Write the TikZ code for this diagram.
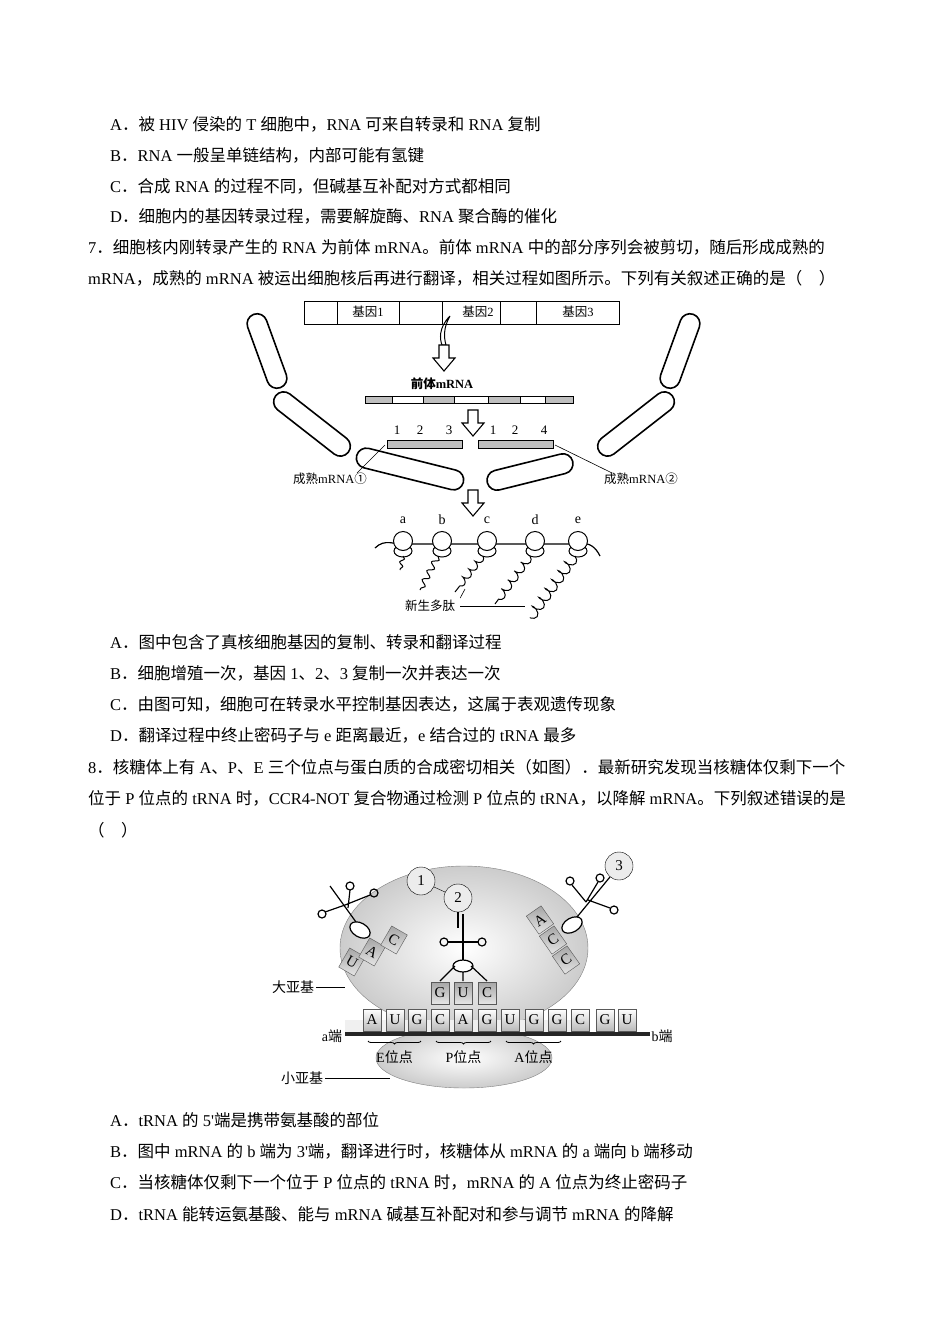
\documentclass[tikz,border=0pt]{standalone}
\usepackage{fontspec}
\setmainfont{Liberation Serif}
\newfontfamily\plainserif{Liberation Serif}
\newfontfamily\cjk{Noto Sans CJK SC}
\usetikzlibrary{decorations.pathmorphing,decorations.pathreplacing}
\newXeTeXintercharclass\mycjkclass
\makeatletter
\count@="3000
\loop\ifnum\count@<"A000 \XeTeXcharclass\count@=\mycjkclass \advance\count@ by 1 \repeat
\count@="FF00
\loop\ifnum\count@<"FFF0 \XeTeXcharclass\count@=\mycjkclass \advance\count@ by 1 \repeat
\XeTeXcharclass"2460=\mycjkclass \XeTeXcharclass"2461=\mycjkclass
\makeatother
\XeTeXinterchartoks 0 \mycjkclass = {\begingroup\cjk}
\XeTeXinterchartoks 4095 \mycjkclass = {\begingroup\cjk}
\XeTeXinterchartoks \mycjkclass 0 = {\endgroup}
\XeTeXinterchartoks \mycjkclass 4095 = {\endgroup}
\XeTeXinterchartokenstate=1
\newcommand\harrow[2]{\draw[line width=1.1pt,fill=white] (#1-5,#2) -- (#1+5,#2) -- (#1+5,#2+13) -- (#1+11,#2+13) -- (#1,#2+26) -- (#1-11,#2+13) -- (#1-5,#2+13) -- cycle;}
\begin{document}
\begin{tikzpicture}[x=1pt,y=-1pt,
 txt/.style={anchor=west,inner sep=0pt,font=\fontsize{16.5}{16.5}\selectfont},
 lbl/.style={inner sep=0pt,font=\fontsize{12.5}{12.5}\selectfont},
 mem/.style={draw,line width=1.6pt,rounded corners=10pt,minimum height=20pt,inner sep=0pt},
 rib/.style={draw,line width=1pt,fill=white,circle,minimum size=19pt,inner sep=0pt},
 cod/.style={draw=gray!70!black,minimum width=18pt,minimum height=22pt,inner sep=0pt,font=\fontsize{15}{15}\selectfont},
 bigc/.style={draw,fill=gray!15,circle,minimum size=28pt,inner sep=0pt,font=\fontsize{15}{15}\selectfont}]
\useasboundingbox (0,0) rectangle (950,1344);
\fill[white] (0,0) rectangle (950,1344);
% text
\node[txt] (t1) at (110,124) {A．被 HIV 侵染的 T 细胞中，RNA 可来自转录和 RNA 复制};
\node[txt] (t2) at (110,155) {B．RNA 一般呈单链结构，内部可能有氢键};
\node[txt] (t3) at (110,186) {C．合成 RNA 的过程不同，但碱基互补配对方式都相同};
\node[txt] (t4) at (110,216) {D．细胞内的基因转录过程，需要解旋酶、RNA 聚合酶的催化};
\node[txt] (t5) at (88,247) {7．细胞核内刚转录产生的 RNA 为前体 mRNA。前体 mRNA 中的部分序列会被剪切，随后形成成熟的};
\node[txt] (t6) at (88,278) {mRNA，成熟的 mRNA 被运出细胞核后再进行翻译，相关过程如图所示。下列有关叙述正确的是（\quad）};
\node[txt] (t7) at (110,642) {A．图中包含了真核细胞基因的复制、转录和翻译过程};
\node[txt] (t8) at (110,673) {B．细胞增殖一次，基因 1、2、3 复制一次并表达一次};
\node[txt] (t9) at (110,704) {C．由图可知，细胞可在转录水平控制基因表达，这属于表观遗传现象};
\node[txt] (t10) at (110,735) {D．翻译过程中终止密码子与 e 距离最近，e 结合过的 tRNA 最多};
\node[txt] (t11) at (88,767) {8．核糖体上有 A、P、E 三个位点与蛋白质的合成密切相关（如图）．最新研究发现当核糖体仅剩下一个};
\node[txt] (t12) at (88,798) {位于 P 位点的 tRNA 时，CCR4-NOT 复合物通过检测 P 位点的 tRNA，以降解 mRNA。下列叙述错误的是};
\node[txt] (t13) at (88,830) {（\quad）};
\node[txt] (t14) at (110,1120) {A．tRNA 的 5{\plainserif '}端是携带氨基酸的部位};
\node[txt] (t15) at (110,1151) {B．图中 mRNA 的 b 端为 3{\plainserif '}端，翻译进行时，核糖体从 mRNA 的 a 端向 b 端移动};
\node[txt] (t16) at (110,1182) {C．当核糖体仅剩下一个位于 P 位点的 tRNA 时，mRNA 的 A 位点为终止密码子};
\node[txt] (t17) at (110,1214) {D．tRNA 能转运氨基酸、能与 mRNA 碱基互补配对和参与调节 mRNA 的降解};
% ===== figure 1 =====
\draw[line width=0.8pt] (304,301) rectangle (619,324);
\foreach \x in {337,399,442,500,536} \draw[line width=0.8pt] (\x,301)--(\x,324);
\node[lbl] (g1) at (368,312) {基因1};
\node[lbl] (g2) at (478,312) {基因2};
\node[lbl] (g3) at (578,312) {基因3};
\draw[line width=1pt] (450,316) .. controls (438,328) and (440,340) .. (442,345) -- (446,345) .. controls (444,338) and (443,328) .. (450,316);
\harrow{444}{345}
\node[lbl,font=\fontsize{12.5}{12.5}\selectfont\bfseries] (pre) at (442,384) {前体mRNA};
\foreach \a/\b/\c in {365/392/gray!50,392/423/white,423/454/gray!50,454/488/white,488/520/gray!50,520/545/white,545/573/gray!50}
  \draw[line width=0.8pt,fill=\c] (\a,396) rectangle (\b,403);
\harrow{473}{410}
\foreach \x/\s in {397/1,420/2,449/3,493/1,515/2,544/4} \node[lbl,font=\fontsize{13}{13}\selectfont] at (\x,430) {\s};
\draw[line width=0.8pt,fill=gray!50] (387,440) rectangle (462,448);
\draw[line width=0.8pt,fill=gray!50] (478,440) rectangle (553,448);
\node[mem,minimum width=78pt,rotate=-70] (m1) at (267,351) {};
\node[mem,minimum width=92pt,rotate=-38] (m2) at (312,424) {};
\node[mem,minimum width=110pt,rotate=-14] (m3) at (410,469) {};
\node[mem,minimum width=78pt,rotate=70] (m4) at (680,351) {};
\node[mem,minimum width=92pt,rotate=38] (m5) at (636,424) {};
\node[mem,minimum width=88pt,rotate=14] (m6) at (530,472) {};
\node[lbl] (r1) at (330,479) {成熟mRNA①};
\node[lbl] (r2) at (641,479) {成熟mRNA②};
\coordinate (c1) at (385,445); \coordinate (c2) at (555,445);
\draw[line width=0.6pt] (r1.north east)++(-10,0) -- (c1);
\draw[line width=0.6pt] (r2.north west)++(8,0) -- (c2);
\harrow{473}{490}
\draw[line width=1.2pt] (375,548) .. controls (385,538) and (395,545) .. (403,544) -- (580,544) .. controls (590,542) and (596,548) .. (600,556);
\foreach \x/\s/\n in {403/a/1,442/b/2,487/c/3,535/d/4,578/e/5}{
  \node[font=\fontsize{14}{14}\selectfont] at (\x,520) {\s};
  \draw[line width=1pt,fill=white] (\x,551) ellipse (9pt and 6pt);
  \node[rib] (rb\n) at (\x,541) {};
}
\draw[line width=1pt,decorate,decoration={snake,amplitude=2pt,segment length=8pt}] (403,556) -- (400,570);
\draw[line width=1pt,decorate,decoration={snake,amplitude=3pt,segment length=10pt}] (438,556) -- (420,590);
\draw[line width=1pt,decorate,decoration={coil,amplitude=3pt,segment length=10pt}] (483,556) -- (455,592);
\draw[line width=1pt,decorate,decoration={coil,amplitude=4pt,segment length=11pt}] (530,556) -- (495,604);
\draw[line width=1pt,decorate,decoration={coil,amplitude=5pt,segment length=11pt}] (575,556) -- (530,618);
\node[lbl] (np) at (430,606) {新生多肽};
\coordinate (np1) at (525,606); \coordinate (np2) at (465,589);
\draw[line width=0.6pt] (np.east)++(5,0) -- (np1);
\draw[line width=0.6pt] (np.north east)++(5,-2) -- (np2);
% ===== figure 2 =====
\shade[inner color=white,outer color=gray!40,draw=gray] (464,948) ellipse (124pt and 82pt);
\shade[inner color=white,outer color=gray!40,draw=gray] (464,1058) ellipse (88pt and 30pt);
\fill[gray!12] (345,1020) rectangle (585,1034);
\node[lbl,font=\fontsize{14}{14}\selectfont] (big) at (293,987) {大亚基};
\coordinate (bg) at (345,987);
\draw[line width=0.8pt] (big.east)++(2,0) -- (bg);
\node[lbl,font=\fontsize{14}{14}\selectfont] (small) at (302,1078) {小亚基};
\coordinate (sm) at (390,1078);
\draw[line width=0.8pt] (small.east)++(2,0) -- (sm);
\foreach \x/\s/\n in {372/A/1,395/U/2,417/G/3,440/C/4,463/A/5,487/G/6,510/U/7,534/G/8,557/G/9,580/C/10,605/G/11,627/U/12}
  \node[cod,top color=white,bottom color=gray!55,text depth=-6pt] (k\n) at (\x,1020) {\s};
\draw[line width=4pt,gray!30!black] (345,1034) -- (650,1034);
\node[lbl,font=\fontsize{14}{14}\selectfont] (ae) at (332,1036) {a端};
\node[lbl,font=\fontsize{14}{14}\selectfont] (be) at (662,1036) {b端};
\foreach \a/\b/\s/\n in {372/417/E/1,440/487/P/2,510/557/A/3}{
  \draw[line width=0.8pt,decorate,decoration={brace,mirror,amplitude=3pt}] ({\a-4},1041) -- ({\b+4},1041);
  \node[lbl,font=\fontsize{14}{14}\selectfont] (s\n) at ({(\a+\b)/2},1057) {{\s}位点};
}
% P-site tRNA
\foreach \x/\s/\n in {440/G/1,463/U/2,487/C/3}
  \node[cod,top color=gray!70,bottom color=gray!20] (ac\n) at (\x,993) {\s};
\draw[line width=1.2pt,fill=white] (463,966) ellipse (10pt and 6pt);
\draw[line width=1.2pt] (440,981) -- (455,966) (463,981)--(463,972) (487,981)--(471,966);
\draw[line width=1.2pt] (463,960) -- (463,914);
\draw[line width=1.2pt] (463,942) -- (448,942) (463,942) -- (478,942);
\draw[line width=1.2pt] (444,942) circle (4pt) (482,942) circle (4pt);
\node[bigc] (n1) at (421,881) {1};
\node[bigc] (n2) at (458,898) {2};
\node[bigc] (n3) at (619,866) {3};
\draw (n1) -- (n2);
\draw[line width=1.2pt] (n2) -- (458,928);
% E-site tRNA
\draw[line width=1.2pt,fill=white,rotate around={-30:(360,930)}] (360,930) ellipse (11pt and 7pt);
\draw[line width=1.2pt] (356,922) -- (330,886) (345,905) -- (325,912) (348,908) -- (350,890) (345,905)--(370,895);
\draw[line width=1.2pt] (322,914) circle (4pt) (350,886) circle (4pt) (374,893) circle (4pt);
\foreach \x/\y/\s/\n in {352/962/U/1,372/952/A/2,394/940/C/3}
  \node[cod,rotate=-30,top color=gray!70,bottom color=gray!20] (ea\n) at (\x,\y) {\s};
% A-site incoming tRNA
\draw[line width=1.2pt,fill=white,rotate around={30:(572,925)}] (572,925) ellipse (11pt and 7pt);
\draw[line width=1.2pt] (577,917) -- (n3) (588,900) -- (610,908) (586,902)--(572,885) (586,902)--(598,882);
\draw[line width=1.2pt] (614,910) circle (4pt) (570,881) circle (4pt) (600,878) circle (4pt);
\foreach \x/\y/\s/\n in {540/920/A/1,553/940/C/2,566/960/C/3}
  \node[cod,rotate=35,top color=gray!70,bottom color=gray!20] (aa\n) at (\x,\y) {\s};
\end{tikzpicture}
\end{document}
